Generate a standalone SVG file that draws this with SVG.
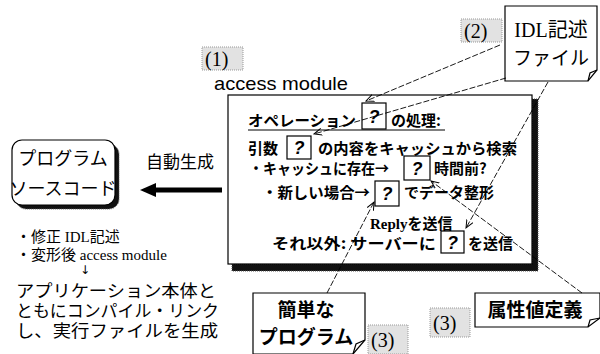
<svg xmlns="http://www.w3.org/2000/svg" width="600" height="354" viewBox="0 0 600 354">
<defs>
<marker id="ah" markerWidth="9" markerHeight="8" refX="8" refY="4" orient="auto" markerUnits="userSpaceOnUse"><path d="M0,0.5 L8,4 L0,7.5" fill="none" stroke="#000" stroke-width="1"/></marker>
</defs>
<style>
.jp{font-family:"Liberation Serif","Noto Sans CJK JP",serif;fill:#000}
.g{font-family:"Noto Sans CJK JP","Liberation Sans",sans-serif;fill:#000}
.b{font-weight:bold}
.box{fill:#fff;stroke:#000;stroke-width:1.2}
.q{fill:#fff;stroke:#000;stroke-width:1.2}
.qt{font-family:"Liberation Sans",sans-serif;font-weight:bold;font-style:italic;font-size:18px;text-anchor:middle}
.lab{fill:#e2e2e2;stroke:#999;stroke-width:1;stroke-dasharray:1 1}
.num{font-family:"Liberation Serif",serif;font-size:20px;fill:#000}
.con{fill:none;stroke:#000;stroke-width:0.9;stroke-dasharray:6 2}
</style>
<rect width="600" height="354" fill="#fff"/>

<g id="label1"><rect class="lab" x="202" y="47" width="41" height="23"/><text class="num" x="205" y="66">(1)</text></g>
<g id="label2"><rect class="lab" x="461" y="19" width="41" height="23"/><text class="num" x="464" y="38">(2)</text></g>
<g id="label3a"><rect class="lab" x="430" y="308" width="40" height="29"/><text class="num" x="433" y="330">(3)</text></g>
<g id="label3b"><rect class="lab" x="368" y="325" width="40" height="29"/><text class="num" x="371" y="347">(3)</text></g>

<g id="access-module">
<text x="214" y="90" font-size="19" font-family="Liberation Sans" textLength="134" lengthAdjust="spacingAndGlyphs">access module</text>
<path d="M532,99 H538 V271 H232 V264 H532 Z" fill="#111" stroke="#555" stroke-width="1" stroke-dasharray="1 1"/>
<rect class="box" x="228" y="95" width="304" height="169"/>
<text class="g b" x="248" y="126" font-size="15" textLength="108" lengthAdjust="spacingAndGlyphs">オペレーション</text>
<rect class="q" x="362" y="103" width="24" height="26"/><text class="qt" x="374" y="123">?</text>
<text class="g b" x="391" y="126" font-size="15">の処理:</text>
<line x1="248" y1="130" x2="445" y2="130" stroke="#000" stroke-width="1.2"/>
<text class="g b" x="248" y="154" font-size="15">引数</text>
<rect class="q" x="287" y="136" width="24" height="23"/><text class="qt" x="299" y="154">?</text>
<text class="g b" x="318" y="154" font-size="15" textLength="199" lengthAdjust="spacingAndGlyphs">の内容をキャッシュから検索</text>
<text class="g b" x="249" y="174" font-size="15" textLength="140" lengthAdjust="spacingAndGlyphs">・キャッシュに存在→</text>
<rect class="q" x="404" y="156" width="26" height="24"/><text class="qt" x="417" y="175">?</text>
<text class="g b" x="434" y="174" font-size="15">時間前?</text>
<text class="g b" x="262" y="198" font-size="15" textLength="108" lengthAdjust="spacingAndGlyphs">・新しい場合→</text>
<rect class="q" x="375" y="181" width="24" height="25"/><text class="qt" x="387" y="200">?</text>
<text class="g b" x="404" y="198" font-size="15">でデータ整形</text>
<text class="jp b" x="370" y="229" font-size="15">Replyを送信</text>
<text class="g b" x="272" y="249" font-size="15" textLength="164" lengthAdjust="spacingAndGlyphs">それ以外: サーバーに</text>
<rect class="q" x="441" y="231" width="23" height="22"/><text class="qt" x="452.5" y="249">?</text>
<text class="g b" x="468" y="249" font-size="15">を送信</text>
</g>

<g id="idl-file">
<path class="box" d="M505,6 H597 V70 L588,81 H505 Z"/>
<path d="M588,81 L590,73 L597,70" fill="none" stroke="#000" stroke-width="1.2"/>
<text class="jp" x="551" y="37" font-size="20" text-anchor="middle">IDL記述</text>
<text class="g" x="551" y="65" font-size="19" text-anchor="middle">ファイル</text>
</g>

<g id="program-source">
<rect x="16" y="144" width="103" height="65" rx="10" fill="#111" stroke="#555" stroke-width="1" stroke-dasharray="1 1"/>
<rect class="box" x="12" y="140" width="103" height="65" rx="10"/>
<text class="g" x="63" y="165" font-size="18" text-anchor="middle">プログラム</text>
<text class="g" x="63" y="195" font-size="18" text-anchor="middle">ソースコード</text>
</g>

<g id="auto-gen">
<text class="g" x="180" y="168" font-size="17" text-anchor="middle">自動生成</text>
<line x1="152" y1="190" x2="222" y2="190" stroke="#000" stroke-width="5"/>
<polygon points="140,190 156,183 156,197" fill="#000"/>
</g>

<g id="notes">
<text class="jp" x="16" y="242" font-size="15">・修正 IDL記述</text>
<text class="jp" x="16" y="260" font-size="15">・変形後 access module</text>
<text x="85" y="274" font-size="12" text-anchor="middle" font-family="DejaVu Sans">↓</text>
<text class="jp" x="16" y="297" font-size="17" textLength="200" lengthAdjust="spacingAndGlyphs">アプリケーション本体と</text>
<text class="jp" x="16" y="317" font-size="17" textLength="203" lengthAdjust="spacingAndGlyphs">ともにコンパイル・リンク</text>
<text class="jp" x="16" y="337" font-size="17" textLength="202" lengthAdjust="spacingAndGlyphs">し、実行ファイルを生成</text>
</g>

<g id="simple-program">
<path class="box" d="M253,293 H365 V340 L353,354 H253 Z"/>
<path d="M353,354 L356,344 L365,340" fill="none" stroke="#000" stroke-width="1.2"/>
<text class="g b" x="306" y="317" font-size="19" text-anchor="middle">簡単な</text>
<text class="g b" x="306" y="344" font-size="19" text-anchor="middle">プログラム</text>
</g>

<g id="attr-def">
<path class="box" d="M475,293 H600 V318 L588,327 H475 Z"/>
<path d="M588,327 L590,320 L600,318" fill="none" stroke="#000" stroke-width="1.2"/>
<text class="g b" x="535" y="317" font-size="19" text-anchor="middle">属性値定義</text>
</g>

<g id="connectors">
<line class="con" x1="500" y1="45" x2="366" y2="101" marker-end="url(#ah)"/>
<line class="con" x1="506" y1="78" x2="314" y2="134" marker-end="url(#ah)"/>
<line class="con" x1="548" y1="82" x2="466" y2="228" marker-end="url(#ah)"/>
<line class="con" x1="582" y1="293" x2="431" y2="181" marker-end="url(#ah)"/>
<line class="con" x1="327" y1="293" x2="374" y2="202" marker-end="url(#ah)"/>
</g>
</svg>
